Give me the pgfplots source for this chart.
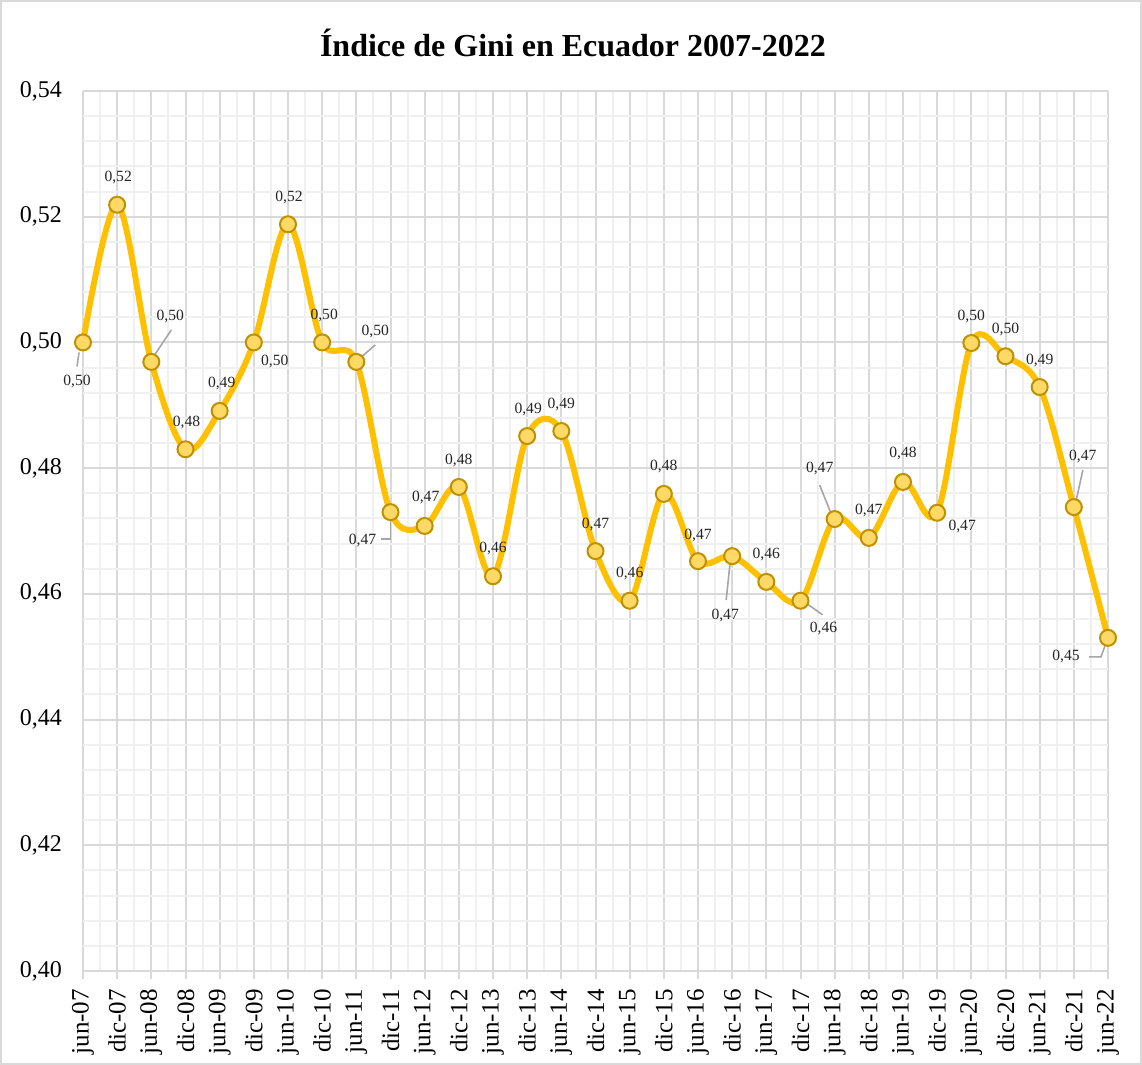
\documentclass[border=0pt]{standalone}
\usepackage{fontspec}
\setmainfont{Liberation Serif}
\usepackage{pgfplots}
\pgfplotsset{compat=1.18}
\usepackage{pgfplotstable}
\definecolor{lineGold}{HTML}{FFC000}
\definecolor{markFill}{HTML}{FFD966}
\definecolor{markEdge}{HTML}{BF9000}
\definecolor{gridMaj}{HTML}{D9D9D9}
\definecolor{gridMin}{HTML}{F0F0F0}
\definecolor{leader}{HTML}{A6A6A6}
\definecolor{lbl}{HTML}{262626}

\pgfplotstableread{
x y dx dy
0 0.500 -3 -19.5
1 0.5219 0.5 13.5
2 0.4969 9.5 22.5
3 0.4830 0.5 13.5
4 0.4891 1 13.5
5 0.500 10.5 -9.5
6 0.5188 0.5 13.5
7 0.500 1 13.5
8 0.4969 9.5 15
9 0.4730 -14 -14
10 0.4708 0.5 14
11 0.4770 0 13
12 0.4628 0 14
13 0.4851 0.5 13.5
14 0.4859 0 13.5
15 0.4668 0 13.5
16 0.4589 0 13.5
17 0.4759 0 13.5
18 0.4652 0 13
19 0.4660 -3.5 -29.5
20 0.4619 0 13.5
21 0.4589 11.5 -14
22 0.4719 -7.5 25.5
23 0.4689 0 13.5
24 0.4778 0 14
25 0.4729 12.5 -7
26 0.4999 0 13.5
27 0.4978 0 13.5
28 0.4929 0 13.5
29 0.4738 4.5 25.5
30 0.4530 -21 -9.5
}\gini

\begin{document}
\begin{tikzpicture}
\begin{axis}[
  scale only axis,
  width=512.5pt, height=440pt,
  xmin=0, xmax=30, ymin=0.40, ymax=0.54,
  xtick={0,...,30},
  xticklabels={jun-07,dic-07,jun-08,dic-08,jun-09,dic-09,jun-10,dic-10,jun-11,dic-11,jun-12,dic-12,jun-13,dic-13,jun-14,dic-14,jun-15,dic-15,jun-16,dic-16,jun-17,dic-17,jun-18,dic-18,jun-19,dic-19,jun-20,dic-20,jun-21,dic-21,jun-22},
  ytick={0.40,0.42,0.44,0.46,0.48,0.50,0.52,0.54},
  minor x tick num=1,
  minor y tick num=4,
  grid=both,
  major grid style={draw=gridMaj, line width=1pt},
  minor grid style={draw=gridMin, line width=1pt},
  axis line style={draw=none},
  xtick pos=bottom,
  tick align=outside,
  major tick length=4pt,
  minor tick length=0pt,
  xtick style={draw=gridMaj, line width=1pt},
  ytick style={draw=none},
  x tick label style={rotate=90, anchor=east, font=\fontsize{12.5}{14}\selectfont, text=black, yshift=0pt, xshift=0pt},
  xticklabel shift=1.5pt,
  y tick label style={font=\fontsize{12}{14}\selectfont, text=black, xshift=-3pt,
    /pgf/number format/.cd, fixed, fixed zerofill, precision=2, use comma},
  /pgf/number format/assume math mode=true,
  clip=false,
]
\addplot[lineGold, line width=3pt, smooth, tension=0.55,
  mark=*, mark size=4pt,
  mark options={fill=markFill, draw=markEdge, line width=1pt}]
  table[x=x, y=y] {\gini};

% leader lines
\draw[leader, line width=0.8pt] ([shift={(-2pt,-5pt)}]axis cs:0,0.500) -- ([shift={(-3pt,-12pt)}]axis cs:0,0.500);
\draw[leader, line width=0.8pt] ([shift={(1pt,2.5pt)}]axis cs:2,0.4969) -- ([shift={(10pt,16pt)}]axis cs:2,0.4969);
\draw[leader, line width=0.8pt] ([shift={(2pt,2pt)}]axis cs:8,0.4969) -- ([shift={(9.5pt,8.5pt)}]axis cs:8,0.4969);
\draw[leader, line width=0.8pt] ([shift={(0pt,-2.5pt)}]axis cs:9,0.4730) -- ([shift={(0pt,-13.5pt)}]axis cs:9,0.4730) -- ([shift={(-5pt,-13.5pt)}]axis cs:9,0.4730);
\draw[leader, line width=0.8pt] ([shift={(-1pt,-3pt)}]axis cs:19,0.4660) -- ([shift={(-3pt,-22pt)}]axis cs:19,0.4660);
\draw[leader, line width=0.8pt] ([shift={(2.5pt,-1pt)}]axis cs:21,0.4589) -- ([shift={(11pt,-7pt)}]axis cs:21,0.4589);
\draw[leader, line width=0.8pt] ([shift={(-1.5pt,2pt)}]axis cs:22,0.4719) -- ([shift={(-7.5pt,17pt)}]axis cs:22,0.4719);
\draw[leader, line width=0.8pt] ([shift={(1pt,2.5pt)}]axis cs:29,0.4738) -- ([shift={(4.5pt,18.5pt)}]axis cs:29,0.4738);
\draw[leader, line width=0.8pt] ([shift={(-1pt,-2.5pt)}]axis cs:30,0.4530) -- ([shift={(-3.5pt,-9.5pt)}]axis cs:30,0.4530) -- ([shift={(-9.5pt,-9.5pt)}]axis cs:30,0.4530);

% data labels
\addplot[draw=none, mark=none,
  point meta=y,
  visualization depends on={\thisrow{dx}\as\ldx},
  visualization depends on={\thisrow{dy}\as\ldy},
  nodes near coords={\pgfmathprintnumber[fixed,fixed zerofill,precision=2,use comma,assume math mode=true]{\pgfplotspointmeta}},
  nodes near coords style={anchor=center, xshift=\ldx pt, yshift=\ldy pt, font=\fontsize{7.8}{9}\selectfont, text=lbl, inner sep=0pt},
] table[x=x, y=y] {\gini};

\node[font=\bfseries\fontsize{16}{19}\selectfont, anchor=center] at (rel axis cs:0.478,1.054) {Índice de Gini en Ecuador 2007-2022};

\coordinate (bbl) at (rel axis cs:-0.08098,-0.10682);
\coordinate (btr) at (rel axis cs:1.03317,1.10341);
\end{axis}
\pgfresetboundingbox
\useasboundingbox (bbl) rectangle (btr);
\draw[gridMaj, line width=1pt] ([shift={(0.5pt,0.5pt)}]bbl) rectangle ([shift={(-0.5pt,-0.5pt)}]btr);
\end{tikzpicture}
\end{document}
